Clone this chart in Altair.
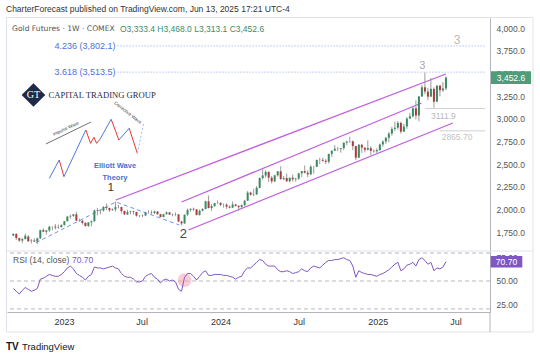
import altair as alt
import pandas as pd

FONT = "Liberation Sans"

# ---------------- data ----------------
week_dates = pd.date_range("2022-09-05", periods=145, freq="7D").strftime("%Y-%m-%d").tolist()

opens = [1712,1728,1683,1655,1672,1700,1650,1656,1645,1681,
         1771,1752,1768,1809,1810,1800,1804,1826,1869,1921,
         1928,1945,1876,1874,1850,1817,1856,1868,1989,1983,
         1986,2025,2015,1990,1999,2025,2026,1981,1944,1970,
         1977,1970,1930,1929,1932,1964,1963,1960,1976,1946,
         1915,1947,1966,1942,1946,1945,1866,1845,1941,1994,
         2006,1999,1938,1984,2003,2089,2014,2036,2069,2071,
         2050,2051,2029,2018,2053,2038,2024,2046,2095,2185,
         2161,2165,2238,2345,2374,2413,2349,2309,2375,2419,
         2334,2345,2311,2349,2331,2339,2397,2421,2403,2386,
         2470,2469,2545,2546,2536,2524,2611,2647,2668,2667,
         2676,2736,2748,2750,2698,2570,2712,2681,2657,2675,
         2645,2640,2654,2715,2748,2789,2835,2887,2900,2953,
         2857,2914,3001,3026,3114,3035,3245,3346,3299,3243,
         3329,3187,3365,3313,3333.4]
highs = [1736,1738,1688,1686,1734,1716,1672,1680,1686,1775,
         1792,1770,1816,1811,1838,1833,1836,1871,1925,1942,
         1949,1975,1898,1880,1857,1858,1878,1997,2015,1996,
         2036,2063,2020,2011,2085,2049,2029,1986,1995,1984,
         1984,1973,1937,1943,1973,1988,1988,1986,1980,1951,
         1949,1978,1970,1953,1965,1947,1872,1942,2009,2010,
         2019,2002,1997,2014,2095,2152,2061,2071,2098,2080,
         2064,2068,2043,2088,2061,2043,2055,2105,2203,2195,
         2226,2256,2354,2448,2431,2418,2367,2381,2422,2474,
         2368,2395,2350,2384,2347,2402,2424,2484,2430,2490,
         2477,2549,2570,2570,2556,2614,2648,2709,2690,2677,
         2737,2758,2801,2760,2700,2721,2722,2682,2761,2695,
         2661,2674,2726,2761,2798,2853,2912,2968,2974,2968,
         2943,3017,3065,3129,3201,3250,3371,3509,3340,3448,
         3345,3366,3365,3404,3468.0]
lows = [1703,1662,1643,1626,1668,1642,1623,1641,1616,1672,
        1748,1722,1751,1768,1777,1785,1798,1822,1866,1896,
        1917,1871,1861,1832,1810,1806,1813,1865,1934,1945,
        1975,1993,1972,1985,1975,2011,1955,1937,1936,1947,
        1942,1919,1910,1912,1924,1953,1946,1946,1944,1913,
        1913,1941,1938,1923,1924,1858,1823,1841,1929,1971,
        1983,1932,1931,1977,2002,2011,1983,2026,2060,2034,
        2018,2004,2011,2018,2031,1984,2020,2036,2094,2150,
        2146,2160,2230,2327,2350,2302,2285,2299,2360,2326,
        2322,2301,2295,2305,2305,2325,2355,2397,2354,2377,
        2393,2466,2500,2524,2501,2506,2578,2643,2642,2625,
        2654,2708,2732,2653,2541,2565,2622,2628,2650,2596,
        2624,2609,2641,2689,2722,2740,2812,2864,2880,2835,
        2853,2887,2995,3011,2992,2971,3240,3268,3203,3240,
        3121,3183,3246,3293,3313.1]
closes = [1728,1683,1655,1672,1709,1648,1656,1645,1681,1771,
          1754,1768,1809,1810,1800,1804,1826,1869,1921,1928,
          1945,1876,1874,1850,1817,1856,1868,1989,1983,1986,
          2025,2015,1990,1999,2025,2026,1981,1944,1970,1977,
          1970,1930,1929,1932,1964,1963,1960,1976,1946,1915,
          1947,1966,1942,1946,1945,1866,1845,1941,1994,2006,
          1999,1938,1984,2003,2089,2014,2036,2069,2071,2050,
          2051,2029,2018,2053,2038,2024,2046,2095,2185,2161,
          2165,2238,2345,2374,2413,2349,2309,2375,2419,2334,
          2345,2311,2349,2331,2339,2397,2421,2403,2386,2470,
          2469,2545,2546,2536,2524,2611,2647,2668,2667,2676,
          2736,2748,2750,2698,2570,2712,2681,2657,2675,2645,
          2640,2654,2715,2748,2789,2835,2887,2900,2953,2857,
          2914,3001,3026,3114,3035,3245,3346,3299,3243,3329,
          3187,3365,3313,3333,3452.6]
rsi_values = [42,39,36,40,43,41,39,40,42,52,
              53,55,57,56,55,55,57,60,64,66,
              63,58,56,54,51,55,57,65,64,64,
              63,64,65,66,64,63,58,55,54,54,
              52,49,49,50,55,57,58,54,52,48,
              51,52,50,51,49,41,39,54,58,58,
              55,51,55,59,61,56,56,57,57,57,
              56,56,55,54,52,54,55,61,64,64,
              67,70,73,72,68,66,66,66,62,60,
              60,61,60,58,59,60,63,61,60,64,
              66,65,64,67,70,72,72,73,73,74,
              75,73,72,66,54,61,59,58,57,57,
              56,55,57,58,60,62,65,68,70,61,
              63,67,68,70,66,73,75,72,68,70,
              61,64,63,65,70.7]

last_price = 3452.6
last_rsi = 70.7

fib_names = ["4.236 (3,802.1)", "3.618 (3,513.5)"]
fib_prices = [3802.1, 3513.5]
fib_label_dates = ["2022-12-10", "2022-12-10"]
fib_start_dates = ["2023-05-06", "2023-05-06"]
fib_end_dates = ["2025-09-08", "2025-09-08"]

channel_start_dates = ["2023-05-02", "2023-10-02", "2023-10-18"]
channel_start_prices = [2103, 2081, 1772]
channel_end_dates = ["2025-06-09", "2025-04-13", "2025-06-25"]
channel_end_prices = [3493, 3173, 2952]

wave_path_dates = ["2022-10-28", "2023-05-02", "2023-09-27"]
wave_path_prices = [1632, 2081, 1827]

level_names = ["3111.9", "2865.70"]
level_prices = [3111.9, 2865.7]
level_start_dates = ["2025-04-21", "2025-05-26"]
level_end_dates = ["2025-09-08", "2025-09-08"]
level_text_dates = ["2025-06-03", "2025-05-30"]
level_text_prices = [3030, 2801]

# Elliott-wave inset drawing (date, price) vertices
ew_blue_d1 = ["2022-11-28", "2023-01-01", "2023-03-26", "2023-05-09"]
ew_blue_p1 = [2342, 2360, 2773, 2765]
ew_blue_d2 = ["2022-12-21", "2023-02-21", "2023-04-21", "2023-06-02"]
ew_blue_p2 = [2544, 2875, 2993, 2894]
ew_red_d1 = ["2022-12-21", "2023-02-21", "2023-03-04", "2023-03-12", "2023-03-18", "2023-04-21", "2023-06-02"]
ew_red_p1 = [2544, 2875, 2728, 2795, 2728, 2993, 2894]
ew_red_d2 = ["2023-01-01", "2023-03-04", "2023-03-12", "2023-03-18", "2023-03-26", "2023-05-09", "2023-06-21"]
ew_red_p2 = [2360, 2728, 2795, 2728, 2773, 2765, 2618]
ew_dot_d = ["2023-06-21", "2023-07-06"]
ew_dot_p = [2618, 2956]

# ---------------- frame ----------------
W = 483
H = 294
PH = 233

UP = "#3a8a62"
DOWN = "#ad3a3c"
PURPLE = "#c05ce0"

xscale = alt.Scale(type="utc", domain=[alt.DateTime(year=2022, month=9, date=2, utc=True),
                                       alt.DateTime(year=2025, month=9, date=8, utc=True)])
xaxis = alt.Axis(
    orient="bottom", title=None, grid=False, ticks=False,
    values=[alt.DateTime(year=y, month=m, date=1, utc=True) for y, m in
            [(2023, 1), (2023, 7), (2024, 1), (2024, 7), (2025, 1), (2025, 7)]],
    labelExpr="utcFormat(datum.value, '%m') == '01' ? utcFormat(datum.value, '%Y') : utcFormat(datum.value, '%b')",
    domainColor="#b2b5be", labelColor="#333333", labelFontSize=9, labelPadding=5,
    labelFont=FONT, labelFlush=False)

pscale = alt.Scale(domain=[1540.5, 4110.3], range=[PH, 0], nice=False, zero=False)
paxis = alt.Axis(orient="right", title=None, grid=False, ticks=False,
                 values=[1750, 2000, 2250, 2500, 2750, 3000, 3250, 3500, 3750, 4000],
                 format=",.1f", domainColor="#b2b5be", labelColor="#555555",
                 labelFontSize=8.5, labelPadding=6, labelFont=FONT)
rscale = alt.Scale(domain=[16.7, 82.2], range=[H, PH], nice=False, zero=False)
raxis = alt.Axis(orient="right", title=None, grid=False, ticks=False,
                 values=[25, 50, 75], format=".2f", domainColor="#b2b5be",
                 labelColor="#555555", labelFontSize=8.5, labelPadding=6, labelFont=FONT)


def X(field):
    return alt.X(field, type="temporal", scale=xscale, axis=xaxis)


def PY(field):
    return alt.Y(field, type="quantitative", scale=pscale, axis=paxis)


def RY(field):
    return alt.Y(field, type="quantitative", scale=rscale, axis=raxis)


one = pd.DataFrame({"k": [0]})


def deco_text(text, x, y, **kw):
    return alt.Chart(one).mark_text(text=text, align=kw.pop("align", "left"),
                                    baseline=kw.pop("baseline", "middle"),
                                    font=kw.pop("font", FONT), **kw).encode(
        x=alt.value(x), y=alt.value(y))


candles = pd.DataFrame({"date": week_dates, "open": opens, "high": highs,
                        "low": lows, "close": closes, "rsi": rsi_values})
candles["dir"] = ["up" if c >= o else "down" for o, c in zip(opens, closes)]

# ---------------- price pane ----------------
wicks = alt.Chart(candles).mark_rule(color="#9a9a9a", strokeWidth=1).encode(
    x=X("date"), y=PY("low"), y2="high:Q")
bodies = alt.Chart(candles).mark_bar(size=2).encode(
    x=X("date"), y=PY("open"), y2="close:Q",
    color=alt.Color("dir:N", scale=alt.Scale(domain=["up", "down"], range=[UP, DOWN]), legend=None))

fib = pd.DataFrame({"name": fib_names, "price": fib_prices, "ld": fib_label_dates,
                    "d1": fib_start_dates, "d2": fib_end_dates})
fib_lines = alt.Chart(fib).mark_rule(color="#8aa3f0", strokeDash=[1, 2], strokeWidth=1).encode(
    x=X("d1"), x2="d2:T", y=PY("price"))
fib_text = alt.Chart(fib).mark_text(align="left", baseline="middle", color="#4a6fe0",
                                    fontSize=9, font=FONT).encode(
    x=X("ld"), y=PY("price"), text="name:N")

chan = pd.DataFrame({"d1": channel_start_dates, "p1": channel_start_prices,
                     "d2": channel_end_dates, "p2": channel_end_prices})
chan_lines = alt.Chart(chan).mark_rule(color=PURPLE, strokeWidth=1.2).encode(
    x=X("d1"), x2="d2:T", y=PY("p1"), y2="p2:Q")

wpath = pd.DataFrame({"date": wave_path_dates, "price": wave_path_prices, "o": [0, 1, 2]})
wave_path = alt.Chart(wpath).mark_line(color="#6f92f0", strokeDash=[4, 3], strokeWidth=1).encode(
    x=X("date"), y=PY("price"), order="o:Q")

lev = pd.DataFrame({"name": level_names, "price": level_prices, "d1": level_start_dates,
                    "d2": level_end_dates, "td": level_text_dates, "tp": level_text_prices})
lev_lines = alt.Chart(lev).mark_rule(color="#d0d0d0", strokeWidth=1).encode(
    x=X("d1"), x2="d2:T", y=PY("price"))
lev_text1 = alt.Chart(lev.iloc[[0]]).mark_text(align="center", baseline="middle", color="#b8b8b8",
                                               fontSize=8.5, font=FONT).encode(
    x=X("td"), y=PY("tp"), text="name:N")
lev_text2 = alt.Chart(lev.iloc[[1]]).mark_text(align="left", baseline="middle", color="#c4c4c4",
                                               fontSize=8.5, font=FONT).encode(
    x=X("td"), y=PY("tp"), text="name:N")

wl = pd.DataFrame({"t": ["1", "2", "3", "3"],
                   "d": ["2023-04-20", "2023-10-06", "2025-04-15", "2025-07-05"],
                   "p": [2236, 1728, 3581, 3867],
                   "c": ["#333333", "#444444", "#aaaaaa", "#bbbbbb"],
                   "s": [11, 13, 11, 12]})
wave_lbl = alt.layer(*[
    alt.Chart(wl.iloc[[i]]).mark_text(baseline="middle", align="center", font=FONT,
                                      color=wl.c[i], fontSize=int(wl.s[i])).encode(
        x=X("d"), y=PY("p"), text="t:N") for i in range(4)])

# Elliott inset
ewb = pd.DataFrame({"d1": ew_blue_d1, "p1": ew_blue_p1, "d2": ew_blue_d2, "p2": ew_blue_p2})
ewr = pd.DataFrame({"d1": ew_red_d1, "p1": ew_red_p1, "d2": ew_red_d2, "p2": ew_red_p2})
ewd = pd.DataFrame({"d1": [ew_dot_d[0]], "p1": [ew_dot_p[0]], "d2": [ew_dot_d[1]], "p2": [ew_dot_p[1]]})
ew_blue = alt.Chart(ewb).mark_rule(color="#4c78e6", strokeWidth=1).encode(
    x=X("d1"), x2="d2:T", y=PY("p1"), y2="p2:Q")
ew_red = alt.Chart(ewr).mark_rule(color="#e53935", strokeWidth=1).encode(
    x=X("d1"), x2="d2:T", y=PY("p1"), y2="p2:Q")
ew_dot = alt.Chart(ewd).mark_rule(color="#9fb6f5", strokeWidth=1, strokeDash=[2, 2]).encode(
    x=X("d1"), x2="d2:T", y=PY("p1"), y2="p2:Q")
imp = pd.DataFrame({"d1": ["2022-11-20"], "p1": [2721], "d2": ["2023-03-05"], "p2": [2963]})
imp_line = alt.Chart(imp).mark_rule(color="#333333", strokeWidth=0.7).encode(
    x=X("d1"), x2="d2:T", y=PY("p1"), y2="p2:Q")
ew_txt = pd.DataFrame({"t": ["Impulse Wave", "Corrective Wave"],
                       "d": ["2023-01-06", "2023-05-29"], "p": [2886, 3063]})
imp_txt = alt.Chart(ew_txt.iloc[[0]]).mark_text(angle=335, fontSize=4.5, color="#333333",
                                                font=FONT).encode(x=X("d"), y=PY("p"), text="t:N")
cor_txt = alt.Chart(ew_txt.iloc[[1]]).mark_text(angle=38, fontSize=4.5, color="#333333",
                                                font=FONT).encode(x=X("d"), y=PY("p"), text="t:N")
ewt = pd.DataFrame({"t": ["Elliott Wave", "Theory"], "d": ["2023-04-30", "2023-04-30"],
                    "p": [2478, 2346]})
ew_title = alt.Chart(ewt).mark_text(fontSize=7.5, fontWeight="bold", color="#4a6fd8",
                                    font=FONT).encode(x=X("d"), y=PY("p"), text="t:N")

# logo
logo = pd.DataFrame({"d": ["2022-10-22"], "p": [3261], "d2": ["2022-11-26"],
                     "name": ["CAPITAL TRADING GROUP"], "mono": ["GT"]})
logo_dia = alt.Chart(logo).mark_point(shape="diamond", filled=True, size=560,
                                      color="#1e2a47", opacity=1).encode(x=X("d"), y=PY("p"))
logo_mono = alt.Chart(logo).mark_text(font="Liberation Serif", fontSize=10, color="white").encode(
    x=X("d"), y=PY("p"), text="mono:N")
logo_name = alt.Chart(logo).mark_text(font="Liberation Serif", fontSize=8.6, color="#1e2a47",
                                      align="left").encode(x=X("d2"), y=PY("p"), text="name:N")

badge_p = pd.DataFrame({"v": [last_price], "t": ["3,452.6"]})
price_badge = alt.Chart(badge_p).mark_point(
    shape="M-1,-0.32L1,-0.32L1,0.32L-1,0.32Z", filled=True, size=1600, color="#4e9c78", opacity=1
).encode(x=alt.value(W + 21), y=PY("v"))
price_badge_t = alt.Chart(badge_p).mark_text(color="white", fontSize=8.5, font=FONT).encode(
    x=alt.value(W + 21), y=PY("v"), text="t:N")

price_layer = alt.layer(
    fib_lines, lev_lines, chan_lines, wave_path, wicks, bodies, fib_text, lev_text1, lev_text2,
    wave_lbl, ew_blue, ew_red, ew_dot, imp_line, imp_txt, cor_txt, ew_title,
    logo_dia, logo_mono, logo_name, price_badge, price_badge_t)

# ---------------- RSI pane ----------------
bands = pd.DataFrame({"level": [80, 50, 20]})
rsi_bands = alt.Chart(bands).mark_rule(color="#a6a6a6", strokeDash=[4, 3], strokeWidth=0.8).encode(
    y=RY("level"))
hl = pd.DataFrame({"d": ["2023-10-09"], "v": [51]})
rsi_hl = alt.Chart(hl).mark_circle(size=190, color="#f5a3b3", opacity=0.55).encode(
    x=X("d"), y=RY("v"))
rsi_line = alt.Chart(candles).mark_line(color="#7e57c2", strokeWidth=1).encode(
    x=X("date"), y=RY("rsi"))
badge_r = pd.DataFrame({"v": [last_rsi], "t": ["70.70"]})
rsi_badge = alt.Chart(badge_r).mark_point(
    shape="M-1,-0.36L1,-0.36L1,0.36L-1,0.36Z", filled=True, size=1000, color="#7e57c2", opacity=1
).encode(x=alt.value(W + 16.5), y=RY("v"))
rsi_badge_t = alt.Chart(badge_r).mark_text(color="white", fontSize=8.5, font=FONT).encode(
    x=alt.value(W + 16.5), y=RY("v"), text="t:N")

rsi_layer = alt.layer(rsi_bands, rsi_hl, rsi_line, rsi_badge, rsi_badge_t)

# ---------------- decoration ----------------
frame = alt.Chart(one).mark_rect(fillOpacity=0, stroke="#e0e3eb", strokeWidth=1).encode(
    x=alt.value(-0.5), x2=alt.value(526), y=alt.value(-0.5), y2=alt.value(314))
sep = alt.Chart(one).mark_rule(color="#e0e3eb", strokeWidth=1).encode(
    x=alt.value(0), x2=alt.value(526), y=alt.value(PH), y2=alt.value(PH))
axis_ext = alt.Chart(one).mark_rule(color="#b2b5be", strokeWidth=1).encode(
    x=alt.value(W), y=alt.value(H), y2=alt.value(314))

deco = alt.layer(
    frame, sep, axis_ext,
    deco_text("CharterForecast published on TradingView.com, Jun 13, 2025 17:21 UTC-4", -1, -9,
              fontSize=8.5, color="#333333"),
    deco_text("Gold Futures · 1W · COMEX", 5, 11, fontSize=7.6, color="#555555", font="DejaVu Sans"),
    deco_text("O3,333.4  H3,468.0  L3,313.1  C3,452.6", 113, 11, fontSize=8.5, color="#3d8a64"),
    deco_text("RSI (14, close)", 6, 242, fontSize=8.5, color="#555555"),
    deco_text("70.70", 65, 242, fontSize=8.5, color="#7e57c2"),
    deco_text("TV", -1, 329, fontSize=10, fontWeight="bold", color="#131722"),
    deco_text("TradingView", 15, 329, fontSize=9.5, color="#131722"),
)

chart = alt.layer(price_layer, rsi_layer, deco).resolve_scale(y="independent").properties(
    width=W, height=H,
    autosize=alt.AutoSizeParams(type="none"),
    padding={"left": 7, "top": 18, "right": 50, "bottom": 44},
    background="white",
).configure_view(strokeWidth=0)

chart.save("out.html", embed_options={"renderer": "svg", "actions": False})
